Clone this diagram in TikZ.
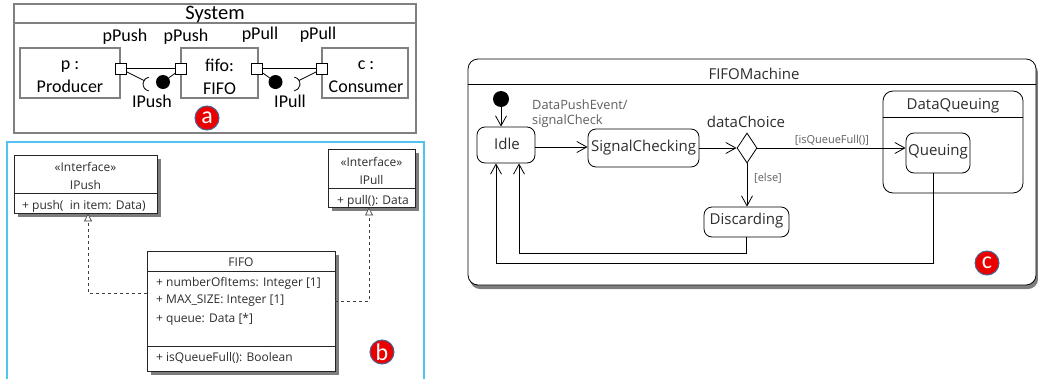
\documentclass[tikz,border=0pt]{standalone}
\usepackage{fontspec}
\setmainfont{Open Sans}
\newfontfamily\calib{Carlito}
\usetikzlibrary{arrows.meta,shapes.geometric,shadows,calc}
\definecolor{frameg}{RGB}{128,128,128}
\definecolor{panelblue}{RGB}{80,195,240}
\definecolor{txt}{RGB}{45,45,45}
\definecolor{lbl}{RGB}{95,95,95}
\definecolor{badgered}{RGB}{235,0,0}
\definecolor{badgeedge}{RGB}{70,100,150}
\definecolor{shadowg}{RGB}{125,125,125}
\tikzset{
  sysframe/.style={draw=frameg, line width=2.6pt, inner sep=0},
  part/.style={draw=frameg, line width=2.6pt, inner sep=0},
  atext/.style={font=\calib\fontsize{18}{23}\selectfont, align=center, inner sep=0},
  port/.style={draw, fill=white, line width=0.7pt, minimum size=11pt, inner sep=0},
  ball/.style={circle, fill=black, minimum size=14pt, inner sep=0},
  conn/.style={line width=0.8pt},
  badge/.style={circle, fill=badgered, draw=badgeedge, line width=1pt, minimum size=24pt,
    inner sep=0, text=white, font=\calib\fontsize{24}{24}\selectfont},
  clsbox/.style={draw=black!85, fill=white, line width=0.8pt, inner sep=0,
    drop shadow={shadow xshift=3.5pt, shadow yshift=-3.5pt, fill=shadowg, opacity=1}},
  btext/.style={text=txt, font=\fontsize{12}{14}\selectfont, inner sep=0},
  realize/.style={line width=0.7pt, draw=black!75, dash pattern=on 3pt off 3pt,
    -{Triangle[open, length=8pt, width=8pt, fill=white]}},
  machine/.style={draw, fill=white, line width=0.8pt, rounded corners=10pt, inner sep=0,
    drop shadow={shadow xshift=2pt, shadow yshift=-4pt, fill=shadowg, opacity=1}},
  state/.style={draw, fill=white, line width=0.8pt, rounded corners=8pt, inner sep=0},
  ctext/.style={text=txt, font=\fontsize{15}{17}\selectfont, inner sep=0},
  glabel/.style={text=lbl, font=\fontsize{11}{13}\selectfont, inner sep=0},
  trans/.style={line width=0.8pt, -{Straight Barb[length=10pt, width=11pt, line width=0.8pt]}},
  initdot/.style={circle, fill=black, minimum size=16pt, inner sep=0},
  choice/.style={diamond, draw, fill=white, line width=0.8pt, inner sep=0,
    minimum width=20pt, minimum height=30pt}
}
\begin{document}
\begin{tikzpicture}[x=1pt, y=-1pt]
\useasboundingbox (0,0) rectangle (1038,378);
\fill[white] (0,0) rectangle (1038,378);

% ---------- composite structure: System ----------
\node[sysframe, minimum width=402pt, minimum height=129pt] (sys) at (215,68.5) {};
\coordinate (sysbar) at (0,23);
\draw[draw=frameg, line width=2.6pt] (sys.west |- sysbar) -- (sys.east |- sysbar);
\node[atext, font=\calib\fontsize{20.5}{22}\selectfont] (systitle) at (215,14) {System};

\node[part, minimum width=100pt, minimum height=50pt] (prod) at (70,73) {};
\node[part, minimum width=77pt, minimum height=50pt] (fifo) at (219.5,73) {};
\node[part, minimum width=86pt, minimum height=50pt] (cons) at (365,73) {};
\node[atext] (prodlbl) at (70,76.5) {p :\\Producer};
\node[atext] (fifolbl) at (219.5,76.5) {fifo:\\FIFO};
\node[atext] (conslbl) at (366,76.5) {c :\\Consumer};

\node[port] (pp1) at (121,69) {};
\node[port] (pp2) at (181,69) {};
\node[port] (pl1) at (257,69) {};
\node[port] (pl2) at (322,69) {};
\node[atext] (pp1lbl) at (125,37) {pPush};
\node[atext] (pp2lbl) at (186,37) {pPush};
\node[atext] (pl1lbl) at (260,35) {pPull};
\node[atext] (pl2lbl) at (318,35) {pPull};

\draw[conn] ([yshift=1pt]pp1.east) -- ([yshift=1pt]pp2.west);
\draw[conn] ([yshift=1pt]pl1.east) -- ([yshift=1pt]pl2.west);

% IPush assembly: socket on the producer, ball on the FIFO
\node[ball] (bpush) at (163,82) {};
\coordinate (sockL) at (150,84);
\coordinate (sockLend) at ($(sockL)+(210:7)$);
\draw[conn] (sockL) ++(100:7) arc[start angle=100, end angle=260, radius=7];
\draw[conn] (pp1) -- (sockLend);
\draw[conn] (bpush) -- (pp2);
\node[atext] (ipushlbl) at (152,101) {IPush};

% IPull assembly: ball on the FIFO, socket on the consumer
\node[ball] (bpull) at (275.5,82) {};
\coordinate (sockR) at (293,84);
\coordinate (sockRend) at ($(sockR)+(-30:7)$);
\draw[conn] (sockR) ++(-80:7) arc[start angle=-80, end angle=80, radius=7];
\draw[conn] (pl2) -- (sockRend);
\draw[conn] (pl1) -- (bpull);
\node[atext] (ipulllbl) at (290,101) {IPull};

\node[badge] (ba) at (207,118) {a};

% ---------- class diagram ----------
\draw[panelblue, line width=1.6pt] (7,142) rectangle (424,395);

\node[clsbox, minimum width=143pt, minimum height=58pt] (ipush) at (85.5,184) {};
\coordinate (ipushsep) at (0,193);
\draw[line width=0.8pt, black!85] (ipush.west |- ipushsep) -- (ipush.east |- ipushsep);
\node[btext] (ipushst) at (85.5,167) {«Interface»};
\node[btext] (ipushnm) at (85.5,185) {IPush};
\node[btext, anchor=west] (ipushop) at (22,206) {+ push(\ \ in item: Data)};

\node[clsbox, minimum width=87pt, minimum height=58pt] (ipull) at (371.5,178) {};
\coordinate (ipullsep) at (0,188);
\draw[line width=0.8pt, black!85] (ipull.west |- ipullsep) -- (ipull.east |- ipullsep);
\node[btext] (ipullst) at (371.5,162) {«Interface»};
\node[btext] (ipullnm) at (371.5,180) {IPull};
\node[btext, anchor=west] (ipullop) at (337,201) {+ pull(): Data};

\node[clsbox, minimum width=188pt, minimum height=120pt] (fifocls) at (241,311) {};
\coordinate (fsep1) at (0,271);
\coordinate (fsep2) at (0,346);
\draw[line width=0.8pt, black!85] (fifocls.west |- fsep1) -- (fifocls.east |- fsep1);
\draw[line width=0.8pt, black!85] (fifocls.west |- fsep2) -- (fifocls.east |- fsep2);
\node[btext] (fifonm) at (241,262) {FIFO};
\node[btext, anchor=west] (fa1) at (156,283) {+ numberOfItems: Integer [1]};
\node[btext, anchor=west] (fa2) at (156,301) {+ MAX\_SIZE: Integer [1]};
\node[btext, anchor=west] (fa3) at (156,319) {+ queue: Data [*]};
\node[btext, anchor=west] (fo1) at (156,358) {+ isQueueFull(): Boolean};

\coordinate (rl) at (0,293);
\coordinate (rr) at (0,301);
\draw[realize] (fifocls.west |- rl) -| ([xshift=2.5pt]ipush.south);
\draw[realize] (fifocls.east |- rr) -| ([xshift=-2.5pt]ipull.south);

\node[badge] (bb) at (382,352) {b};

% ---------- state machine ----------
\node[machine, minimum width=568pt, minimum height=226pt] (fm) at (752,172) {};
\coordinate (fmsep) at (0,84);
\draw[line width=0.8pt] (fm.west |- fmsep) -- (fm.east |- fmsep);
\node[ctext] (fmname) at (754,74) {FIFOMachine};

\node[initdot] (init) at (501,99) {};
\node[state, minimum width=58pt, minimum height=36pt] (idle) at (506,145) {};
\node[ctext] (idlelbl) at (507,144) {Idle};
\node[state, minimum width=111pt, minimum height=38pt] (sc) at (643.5,148) {};
\node[ctext] (sclbl) at (643.5,148) {SignalChecking};
\node[choice] (dc) at (747,148) {};
\node[ctext] (dclbl) at (746,122) {dataChoice};

\node[state, rounded corners=10pt, minimum width=140pt, minimum height=102pt] (dq) at (953,142) {};
\coordinate (dqsep) at (0,117);
\draw[line width=0.8pt] (dq.west |- dqsep) -- (dq.east |- dqsep);
\node[ctext] (dqlbl) at (953,106) {DataQueuing};
\node[state, minimum width=64pt, minimum height=40pt] (q) at (938,153) {};
\node[ctext] (qlbl) at (938,152) {Queuing};

\node[state, minimum width=85pt, minimum height=30pt] (disc) at (746.5,222) {};
\node[ctext] (disclbl) at (746.5,221) {Discarding};

\draw[trans] (init) -- (init |- idle.north);
\draw[trans] ([yshift=-2pt]idle.east) -- ([yshift=-2pt]idle.east -| sc.west);
\node[glabel, anchor=west, font=\fontsize{12.8}{15}\selectfont] (ev1) at (532,105) {DataPushEvent/};
\node[glabel, anchor=west, font=\fontsize{12.8}{15}\selectfont] (ev2) at (532,121) {signalCheck};
\draw[trans] (sc.east) -- (sc.east -| dc.west);
\draw[trans] (dc.east) -- (dc.east -| q.west);
\node[glabel] (g1) at (832,140) {[isQueueFull()]};
\draw[trans] (dc.south) -- (dc.south |- disc.north);
\node[glabel] (g2) at (768,178) {[else]};

\coordinate (idleR) at ([xshift=13pt]idle.south);
\coordinate (idleL) at ([xshift=-10pt]idle.south);
\coordinate (qout) at ([xshift=-5pt]q.south);
\coordinate (lowA) at (0,253);
\coordinate (lowB) at (0,263);
\draw[trans] (disc.south) -- (disc.south |- lowA) -- (idleR |- lowA) -- (idleR);
\draw[trans] (qout) -- (qout |- lowB) -- (idleL |- lowB) -- (idleL);

\node[badge] (bc) at (987,263) {c};
\end{tikzpicture}
\end{document}
